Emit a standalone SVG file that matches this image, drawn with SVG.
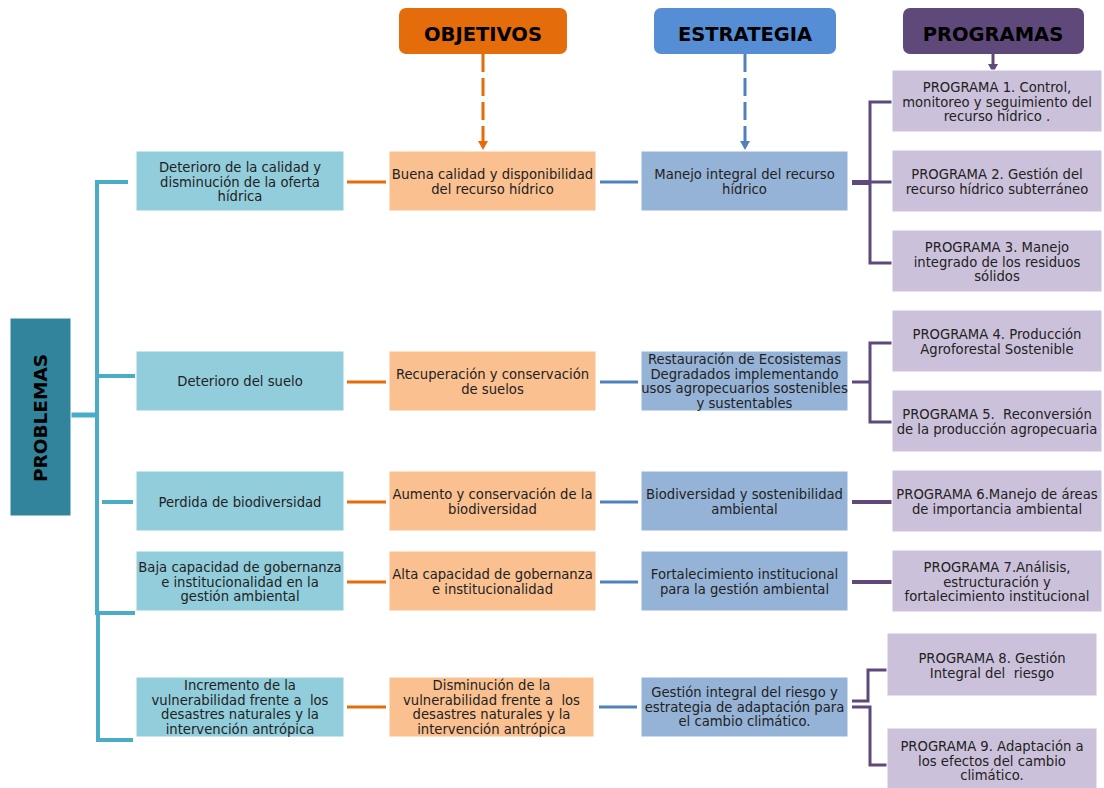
<svg xmlns="http://www.w3.org/2000/svg" width="1104" height="788" viewBox="0 0 1104 788">
<style>
.bg{fill:#ffffff}
.hd{font-family:"DejaVu Sans",Verdana,sans-serif;font-weight:bold;font-size:19.5px;fill:#000;text-anchor:middle}
.t{font-family:"DejaVu Sans",Verdana,sans-serif;font-size:13.2px;fill:#222222;text-anchor:middle}
.p{fill:#92CDDC;stroke:#ffffff;stroke-width:1}
.o{fill:#FAC090;stroke:#ffffff;stroke-width:1}
.e{fill:#95B3D7;stroke:#ffffff;stroke-width:1}
.g{fill:#CCC1DA;stroke:#ffffff;stroke-width:1}
.lt{fill:none;stroke:#4BACC6;stroke-width:4}
.lo{fill:none;stroke:#E46C0A;stroke-width:3}
.lb{fill:none;stroke:#4F81BD;stroke-width:3}
.lp{fill:none;stroke:#5F497A;stroke-width:3}
.dash{stroke-dasharray:18 6}
</style>
<defs>
<marker id="ab" markerUnits="userSpaceOnUse" markerWidth="10" markerHeight="10" refX="9" refY="5" orient="auto" viewBox="0 0 10 10"><path d="M0,0 L9,5 L0,10 Z" fill="#4F81BD"/></marker>
<marker id="ao2" markerUnits="userSpaceOnUse" markerWidth="10" markerHeight="10" refX="9" refY="5" orient="auto" viewBox="0 0 10 10"><path d="M0,0 L9,5 L0,10 Z" fill="#E46C0A"/></marker>
<marker id="ap" markerUnits="userSpaceOnUse" markerWidth="10" markerHeight="10" refX="9" refY="5" orient="auto" viewBox="0 0 10 10"><path d="M0,0 L9,5 L0,10 Z" fill="#5F497A"/></marker>
</defs>
<rect class="bg" x="0" y="0" width="1104" height="788"/>

<g id="connectors">
  <line class="lo dash" x1="483" y1="54" x2="483" y2="150" marker-end="url(#ao2)"/>
  <line class="lb dash" x1="745" y1="54" x2="745" y2="150" marker-end="url(#ab)"/>
  <line class="lp" x1="993" y1="54" x2="993" y2="73" marker-end="url(#ap)"/>

  <path class="lt" d="M128,182 H97 V376 H135"/>
  <path class="lt" d="M97,376 V613 H135"/>
  <path class="lt" d="M98,613 V740 H133"/>
  <path class="lt" d="M102,502 H133"/>
  <path class="lt" d="M71,415 H97" style="stroke-width:5"/>

  <line class="lo" x1="347" y1="182" x2="386" y2="182"/>
  <line class="lo" x1="347" y1="382" x2="386" y2="382"/>
  <line class="lo" x1="347" y1="502" x2="386" y2="502"/>
  <line class="lo" x1="347" y1="582" x2="386" y2="582"/>
  <line class="lo" x1="347" y1="707" x2="386" y2="707"/>

  <line class="lb" x1="600" y1="182" x2="638" y2="182"/>
  <line class="lb" x1="600" y1="382" x2="638" y2="382"/>
  <line class="lb" x1="600" y1="502" x2="638" y2="502"/>
  <line class="lb" x1="600" y1="582" x2="638" y2="582"/>
  <line class="lb" x1="599" y1="707" x2="637" y2="707"/>

  <line class="lp" x1="852" y1="182.5" x2="871" y2="182.5" style="stroke-width:5"/>
  <path class="lp" d="M892,102 H870 V263 H892"/>
  <line class="lp" x1="870" y1="182" x2="892" y2="182"/>
  <path class="lp" d="M852,382 H870"/>
  <path class="lp" d="M892,343 H870 V422 H892"/>
  <line class="lp" x1="852" y1="502" x2="892" y2="502" style="stroke-width:4"/>
  <line class="lp" x1="852" y1="582" x2="892" y2="582" style="stroke-width:4"/>
  <path class="lp" d="M852,701 H868 V670 H887"/>
  <path class="lp" d="M852,707 H870 V765 H887"/>
</g>

<g id="hdr-objetivos">
  <rect x="399" y="8" width="168" height="46" rx="7" fill="#E46C0A"/>
  <text class="hd" x="483" y="41">OBJETIVOS</text>
</g>
<g id="hdr-estrategia">
  <rect x="654" y="8" width="182" height="46" rx="7" fill="#558ED5"/>
  <text class="hd" x="745" y="41">ESTRATEGIA</text>
</g>
<g id="hdr-programas">
  <rect x="903" y="8" width="181" height="46" rx="7" fill="#5F497A"/>
  <text class="hd" x="993" y="41">PROGRAMAS</text>
</g>
<g id="problemas">
  <rect x="10" y="318" width="61" height="198" fill="#31849B" stroke="#ffffff" stroke-width="1"/>
  <text x="0" y="0" transform="translate(47,418) rotate(-90)" style="font-family:'DejaVu Sans',Verdana,sans-serif;font-weight:bold;font-size:18.5px;fill:#000;text-anchor:middle">PROBLEMAS</text>
</g>

<!-- Problems column -->
<g id="prob1"><rect class="p" x="136" y="151" width="208" height="60"/>
<text class="t"><tspan x="240" y="172">Deterioro de la calidad y</tspan><tspan x="240" y="186.5">disminución de la oferta</tspan><tspan x="240" y="201">hídrica</tspan></text></g>
<g id="prob2"><rect class="p" x="136" y="351" width="208" height="60"/>
<text class="t"><tspan x="240" y="386">Deterioro del suelo</tspan></text></g>
<g id="prob3"><rect class="p" x="136" y="471" width="208" height="60"/>
<text class="t"><tspan x="240" y="507">Perdida de biodiversidad</tspan></text></g>
<g id="prob4"><rect class="p" x="136" y="551" width="208" height="60"/>
<text class="t"><tspan x="240" y="572">Baja capacidad de gobernanza</tspan><tspan x="240" y="586.5">e institucionalidad en la</tspan><tspan x="240" y="601">gestión ambiental</tspan></text></g>
<g id="prob5"><rect class="p" x="136" y="677" width="208" height="60"/>
<text class="t"><tspan x="240" y="690">Incremento de la</tspan><tspan x="240" y="704.5" xml:space="preserve">vulnerabilidad frente a  los</tspan><tspan x="240" y="719">desastres naturales y la</tspan><tspan x="240" y="733.5">intervención antrópica</tspan></text></g>

<!-- Objectives column -->
<g id="obj1"><rect class="o" x="389" y="151" width="207" height="60"/>
<text class="t"><tspan x="492.5" y="179">Buena calidad y disponibilidad</tspan><tspan x="492.5" y="193.5">del recurso hídrico</tspan></text></g>
<g id="obj2"><rect class="o" x="389" y="351" width="207" height="60"/>
<text class="t"><tspan x="492.5" y="379">Recuperación y conservación</tspan><tspan x="492.5" y="393.5">de suelos</tspan></text></g>
<g id="obj3"><rect class="o" x="389" y="471" width="207" height="60"/>
<text class="t"><tspan x="492.5" y="499">Aumento y conservación de la</tspan><tspan x="492.5" y="513.5">biodiversidad</tspan></text></g>
<g id="obj4"><rect class="o" x="389" y="551" width="207" height="60"/>
<text class="t"><tspan x="492.5" y="579">Alta capacidad de gobernanza</tspan><tspan x="492.5" y="593.5">e institucionalidad</tspan></text></g>
<g id="obj5"><rect class="o" x="389" y="677" width="205" height="60"/>
<text class="t"><tspan x="491.5" y="690">Disminución de la</tspan><tspan x="491.5" y="704.5" xml:space="preserve">vulnerabilidad frente a  los</tspan><tspan x="491.5" y="719">desastres naturales y la</tspan><tspan x="491.5" y="733.5">intervención antrópica</tspan></text></g>

<!-- Strategy column -->
<g id="est1"><rect class="e" x="641" y="151" width="207" height="60"/>
<text class="t"><tspan x="744.5" y="179">Manejo integral del recurso</tspan><tspan x="744.5" y="193.5">hídrico</tspan></text></g>
<g id="est2"><rect class="e" x="641" y="351" width="207" height="60"/>
<text class="t"><tspan x="744.5" y="364">Restauración de Ecosistemas</tspan><tspan x="744.5" y="378.5">Degradados implementando</tspan><tspan x="744.5" y="393">usos agropecuarios sostenibles</tspan><tspan x="744.5" y="407.5">y sustentables</tspan></text></g>
<g id="est3"><rect class="e" x="641" y="471" width="207" height="60"/>
<text class="t"><tspan x="744.5" y="499">Biodiversidad y sostenibilidad</tspan><tspan x="744.5" y="513.5">ambiental</tspan></text></g>
<g id="est4"><rect class="e" x="641" y="551" width="207" height="60"/>
<text class="t"><tspan x="744.5" y="579">Fortalecimiento institucional</tspan><tspan x="744.5" y="593.5">para la gestión ambiental</tspan></text></g>
<g id="est5"><rect class="e" x="641" y="677" width="207" height="60"/>
<text class="t"><tspan x="744.5" y="697">Gestión integral del riesgo y</tspan><tspan x="744.5" y="711.5">estrategia de adaptación para</tspan><tspan x="744.5" y="726">el cambio climático.</tspan></text></g>

<!-- Programs column -->
<g id="prog1"><rect class="g" x="892" y="70" width="210" height="62"/>
<text class="t"><tspan x="997" y="92">PROGRAMA 1. Control,</tspan><tspan x="997" y="106.5">monitoreo y seguimiento del</tspan><tspan x="997" y="121">recurso hídrico .</tspan></text></g>
<g id="prog2"><rect class="g" x="892" y="150" width="210" height="62"/>
<text class="t"><tspan x="997" y="179">PROGRAMA 2. Gestión del</tspan><tspan x="997" y="193.5">recurso hídrico subterráneo</tspan></text></g>
<g id="prog3"><rect class="g" x="892" y="230" width="210" height="62"/>
<text class="t"><tspan x="997" y="252">PROGRAMA 3. Manejo</tspan><tspan x="997" y="266.5">integrado de los residuos</tspan><tspan x="997" y="281">sólidos</tspan></text></g>
<g id="prog4"><rect class="g" x="892" y="310" width="210" height="62"/>
<text class="t"><tspan x="997" y="339">PROGRAMA 4. Producción</tspan><tspan x="997" y="353.5">Agroforestal Sostenible</tspan></text></g>
<g id="prog5"><rect class="g" x="892" y="390" width="210" height="62"/>
<text class="t"><tspan x="997" y="419" xml:space="preserve">PROGRAMA 5.  Reconversión</tspan><tspan x="997" y="433.5">de la producción agropecuaria</tspan></text></g>
<g id="prog6"><rect class="g" x="892" y="470" width="210" height="62"/>
<text class="t"><tspan x="997" y="499">PROGRAMA 6.Manejo de áreas</tspan><tspan x="997" y="513.5">de importancia ambiental</tspan></text></g>
<g id="prog7"><rect class="g" x="892" y="550" width="210" height="62"/>
<text class="t"><tspan x="997" y="572">PROGRAMA 7.Análisis,</tspan><tspan x="997" y="586.5">estructuración y</tspan><tspan x="997" y="601">fortalecimiento institucional</tspan></text></g>
<g id="prog8"><rect class="g" x="887" y="633" width="210" height="63"/>
<text class="t"><tspan x="992" y="663">PROGRAMA 8. Gestión</tspan><tspan x="992" y="677.5" xml:space="preserve">Integral del  riesgo</tspan></text></g>
<g id="prog9"><rect class="g" x="887" y="728" width="210" height="64"/>
<text class="t"><tspan x="992" y="751">PROGRAMA 9. Adaptación a</tspan><tspan x="992" y="765.5">los efectos del cambio</tspan><tspan x="992" y="780">climático.</tspan></text></g>
</svg>
